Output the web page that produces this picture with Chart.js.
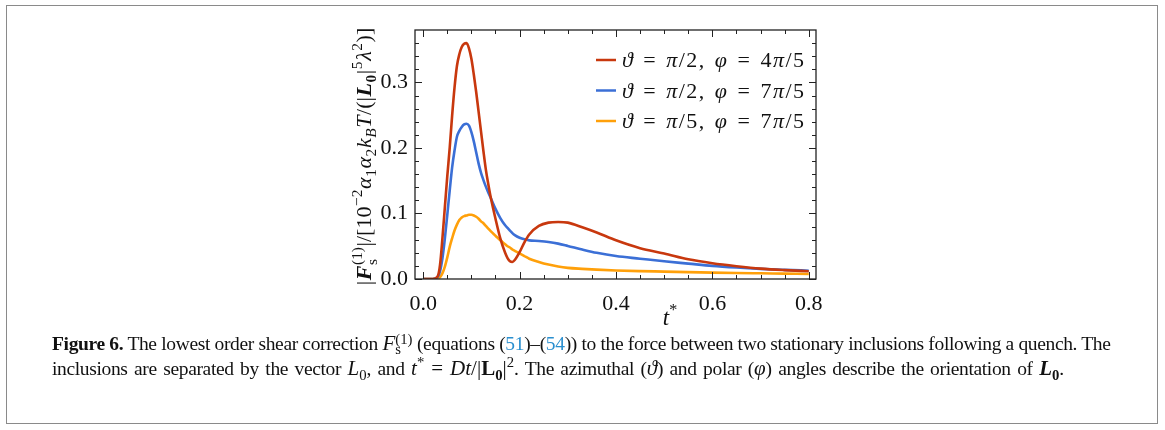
<!DOCTYPE html>
<html>
<head>
<meta charset="utf-8">
<script src="https://cdn.jsdelivr.net/npm/chart.js@4.4.1/dist/chart.umd.min.js"></script>
<style>
  html, body { margin: 0; padding: 0; background: #fff; }
  body { width: 1165px; height: 430px; position: relative; overflow: hidden; }
  #frame { position: absolute; left: 6px; top: 5px; width: 1150px; height: 417px; border: 1.5px solid #8a8a8a; }
  #plot { position: absolute; left: 0; top: 0; width: 1165px; height: 335px; }
  #caption {
    position: absolute; left: 52px; top: 331px;
    font-family: 'Liberation Serif', 'DejaVu Serif', serif;
    font-size: 19.5px; line-height: 25px; letter-spacing: -0.35px;
    white-space: nowrap; color: #111;
  }
  #caption .l2 { word-spacing: 1.9px; }
  #caption .m { font-size: 21px; letter-spacing: 0; }
  #caption .eq { padding: 0 7px; }
  #caption sup, #caption sub { font-size: 70%; line-height: 0; }
  #caption .ref { color: #2a8fcf; }
  #caption .st { display: inline-block; vertical-align: -4px; line-height: 10px; font-size: 70%; text-align: left; }
  #caption .st span { display: block; }
</style>
</head>
<body>
<div id="frame"></div>
<div id="plot"><canvas id="chart"></canvas></div>
<div id="caption">
<b>Figure 6.</b> The lowest order shear correction <span class="m"><i>F</i><span class="st"><span>(1)</span><span>s</span></span></span> (equations (<span class="ref">51</span>)–(<span class="ref">54</span>)) to the force between two stationary inclusions following a quench. The<br>
<span class="l2">inclusions are separated by the vector <span class="m"><i>L</i><sub>0</sub></span>, and <span class="m"><i>t</i><sup>*</sup><span class="eq">=</span><i>Dt</i>/|<b>L<sub>0</sub></b>|<sup>2</sup></span>. The azimuthal (<span class="m"><i>ϑ</i></span>) and polar (<span class="m"><i>φ</i></span>) angles describe the orientation of <span class="m"><b><i>L</i><sub>0</sub></b></span>.</span>
</div>
<script>
// dimensionless time t* = Dt/|L0|^2
const tValues = [0, 0.02, 0.03, 0.035, 0.04, 0.045, 0.05, 0.055, 0.06, 0.065,
  0.07, 0.075, 0.08, 0.085, 0.09, 0.095, 0.10, 0.105, 0.11, 0.115,
  0.12, 0.125, 0.13, 0.135, 0.14, 0.15, 0.16, 0.17, 0.175, 0.18,
  0.185, 0.19, 0.20, 0.21, 0.22, 0.24, 0.26, 0.28, 0.30, 0.33,
  0.36, 0.40, 0.45, 0.50, 0.55, 0.60, 0.65, 0.70, 0.75, 0.80];

// |F_s^(1)| in units of 10^-2 a1 a2 kB T / (|L0|^5 lambda^2)
const forceHalfPi4 = [0, 0, 0.004, 0.022, 0.063, 0.110, 0.157, 0.200, 0.249, 0.292,
  0.325, 0.343, 0.354, 0.359, 0.360, 0.352, 0.336, 0.312, 0.285, 0.255,
  0.225, 0.195, 0.167, 0.145, 0.125, 0.092, 0.062, 0.040, 0.032, 0.027,
  0.026, 0.029, 0.041, 0.056, 0.068, 0.081, 0.086, 0.087, 0.086, 0.079,
  0.071, 0.059, 0.047, 0.039, 0.030, 0.024, 0.0195, 0.0158, 0.0135, 0.0118];

const forceHalfPi7 = [0, 0, 0.003, 0.012, 0.032, 0.062, 0.098, 0.135, 0.170, 0.196,
  0.217, 0.226, 0.232, 0.236, 0.237, 0.234, 0.224, 0.210, 0.193, 0.176,
  0.162, 0.151, 0.141, 0.132, 0.124, 0.107, 0.093, 0.082, 0.078, 0.074,
  0.070, 0.067, 0.063, 0.0605, 0.059, 0.058, 0.0565, 0.054, 0.0505, 0.045,
  0.040, 0.035, 0.031, 0.027, 0.0235, 0.020, 0.0175, 0.0155, 0.014, 0.0127];

const forceFifthPi7 = [0, 0, 0.001, 0.003, 0.009, 0.019, 0.033, 0.049, 0.062, 0.074,
  0.083, 0.090, 0.094, 0.096, 0.097, 0.098, 0.098, 0.097, 0.095, 0.092,
  0.088, 0.085, 0.081, 0.077, 0.073, 0.066, 0.059, 0.053, 0.050, 0.048,
  0.045, 0.043, 0.039, 0.035, 0.031, 0.026, 0.022, 0.019, 0.017, 0.0155,
  0.0143, 0.013, 0.012, 0.0113, 0.0105, 0.0098, 0.0092, 0.0087, 0.0082, 0.0077];

const seriesLabels = ['ϑ = π/2, φ = 4π/5', 'ϑ = π/2, φ = 7π/5', 'ϑ = π/5, φ = 7π/5'];
const seriesColors = ['#c8380e', '#3b6fd6', '#ffa00a'];

const xTicks = [0, 0.2, 0.4, 0.6, 0.8];
const yTicks = [0, 0.1, 0.2, 0.3];
const xMinorStep = 0.05;
const yMinorStep = 0.02;

const SERIF = '"Liberation Serif", "DejaVu Serif", serif';

function fontFor(style, size) {
  return (style.includes('i') ? 'italic ' : '') + (style.includes('b') ? 'bold ' : '') + size + 'px ' + SERIF;
}

// runs: {t, f, p} with p = 'sup' | 'sub', {sup, sub} stacked, or {gap} blank space
function runWidth(ctx, r, size) {
  if (r.gap !== undefined) return r.gap;
  if (r.sup !== undefined) {
    ctx.font = fontFor('r', size * 0.7);
    return Math.max(ctx.measureText(r.sup).width, ctx.measureText(r.sub).width);
  }
  ctx.font = fontFor(r.f || 'r', r.p ? size * 0.7 : size);
  return ctx.measureText(r.t).width;
}

function runsWidth(ctx, runs, size, track = 0) {
  return runs.reduce((w, r) => w + runWidth(ctx, r, size) + track, 0) - track;
}

function drawRuns(ctx, runs, x, y, size, track = 0) {
  ctx.textBaseline = 'alphabetic';
  ctx.textAlign = 'left';
  runs.forEach(r => {
    const w = runWidth(ctx, r, size);
    if (r.sup !== undefined) {
      ctx.fillText(r.sup, x, y - size * 0.42);
      ctx.fillText(r.sub, x, y + size * 0.25);
    } else if (r.t !== undefined) {
      const dy = r.p === 'sup' ? -size * 0.42 : r.p === 'sub' ? size * 0.22 : 0;
      ctx.fillText(r.t, x, y + dy);
    }
    x += w + track;
  });
}

// greek letters italic, everything else upright, spaces widened
function labelRuns(text) {
  return Array.from(text).map(ch => ch === ' ' ? { gap: 7.5 } : { t: ch, f: /[ϑπφ]/.test(ch) ? 'i' : 'r' });
}

const yLabelRuns = [
  { t: '|' }, { t: 'F', f: 'bi' }, { sup: '(1)', sub: 's' }, { t: '|/[10' }, { t: '−2', p: 'sup' },
  { t: 'α', f: 'i' }, { t: '1', p: 'sub' }, { t: 'α', f: 'i' }, { t: '2', p: 'sub' },
  { t: 'k', f: 'i' }, { t: 'B', f: 'i', p: 'sub' }, { t: 'T', f: 'i' }, { t: '/(|' },
  { t: 'L', f: 'bi' }, { t: '0', f: 'b', p: 'sub' }, { t: '|' }, { t: '5', p: 'sup' },
  { t: 'λ', f: 'i' }, { t: '2', p: 'sup' }, { t: ')]' }
];
const xLabelRuns = [{ t: 't', f: 'i' }, { t: '*', p: 'sup' }];

// frame with inward major/minor ticks on all four sides
const frameTicks = {
  id: 'frameTicks',
  afterDatasetsDraw(chart) {
    const { ctx, chartArea: a, scales: { x, y } } = chart;
    ctx.save();
    ctx.strokeStyle = '#222';
    ctx.lineWidth = 1;
    const near = (v, list) => list.some(m => Math.abs(m - v) < 1e-6);
    for (let v = 0; v <= x.max + 1e-9; v += xMinorStep) {
      const px = Math.round(x.getPixelForValue(v)) + 0.5;
      const len = near(v, xTicks) ? 7 : 4;
      ctx.beginPath();
      ctx.moveTo(px, a.bottom); ctx.lineTo(px, a.bottom - len);
      ctx.moveTo(px, a.top); ctx.lineTo(px, a.top + len);
      ctx.stroke();
    }
    for (let v = 0; v <= y.max - 1e-3; v += yMinorStep) {
      const py = Math.round(y.getPixelForValue(v)) + 0.5;
      const len = near(v, yTicks) ? 7 : 4;
      ctx.beginPath();
      ctx.moveTo(a.left, py); ctx.lineTo(a.left + len, py);
      ctx.moveTo(a.right, py); ctx.lineTo(a.right - len, py);
      ctx.stroke();
    }
    ctx.lineWidth = 1.3;
    ctx.strokeRect(a.left, a.top, a.right - a.left, a.bottom - a.top);
    ctx.restore();
  },
  afterDraw(chart) {
    const { ctx, chartArea: a } = chart;
    ctx.save();
    ctx.fillStyle = '#111';

    // legend, upper right inside the axes
    const lx = a.left + 181;
    chart.data.datasets.forEach((ds, i) => {
      const ly = a.top + 30 + i * 30.5;
      ctx.strokeStyle = ds.borderColor;
      ctx.lineWidth = 2.5;
      ctx.beginPath();
      ctx.moveTo(lx, ly); ctx.lineTo(lx + 20, ly);
      ctx.stroke();
      drawRuns(ctx, labelRuns(ds.label), lx + 26, ly + 7, 22, 1.5);
    });

    // x label
    const xs = 23;
    const xw = runsWidth(ctx, xLabelRuns, xs);
    drawRuns(ctx, xLabelRuns, a.left + 255 - xw / 2, a.bottom + 46, xs);

    // y label, rotated
    const ys = 22;
    const yw = runsWidth(ctx, yLabelRuns, ys, 0.6);
    ctx.translate(a.left - 44, (a.top + a.bottom) / 2 + 2);
    ctx.rotate(-Math.PI / 2);
    drawRuns(ctx, yLabelRuns, -yw / 2, 0, ys, 0.6);
    ctx.restore();
  }
};

const series = [forceHalfPi4, forceHalfPi7, forceFifthPi7];

new Chart(document.getElementById('chart'), {
  type: 'line',
  data: {
    datasets: series.map((vals, i) => ({
      label: seriesLabels[i],
      data: tValues.map((t, k) => ({ x: t, y: vals[k] })),
      borderColor: seriesColors[i],
      borderWidth: 2.6,
      pointRadius: 0,
      cubicInterpolationMode: 'monotone',
      fill: false
    }))
  },
  options: {
    responsive: true,
    maintainAspectRatio: false,
    animation: false,
    layout: { padding: { left: 0, top: 30, right: 349, bottom: 0 } },
    plugins: { legend: { display: false }, tooltip: { enabled: false } },
    scales: {
      x: {
        type: 'linear',
        min: -0.017,
        max: 0.815,
        afterFit(scale) { scale.height = 56; },
        afterBuildTicks(scale) { scale.ticks = xTicks.map(v => ({ value: v })); },
        grid: { display: false, drawTicks: false },
        border: { display: false },
        ticks: {
          padding: 12,
          color: '#111',
          font: { family: SERIF, size: 22 },
          callback: v => v.toFixed(1)
        }
      },
      y: {
        min: 0,
        max: 0.38,
        afterFit(scale) { scale.width = 415; },
        afterBuildTicks(scale) { scale.ticks = yTicks.map(v => ({ value: v })); },
        grid: { display: false, drawTicks: false },
        border: { display: false },
        ticks: {
          padding: 7,
          color: '#111',
          font: { family: SERIF, size: 22 },
          callback: v => v.toFixed(1)
        }
      }
    }
  },
  plugins: [frameTicks]
});
</script>
</body>
</html>
